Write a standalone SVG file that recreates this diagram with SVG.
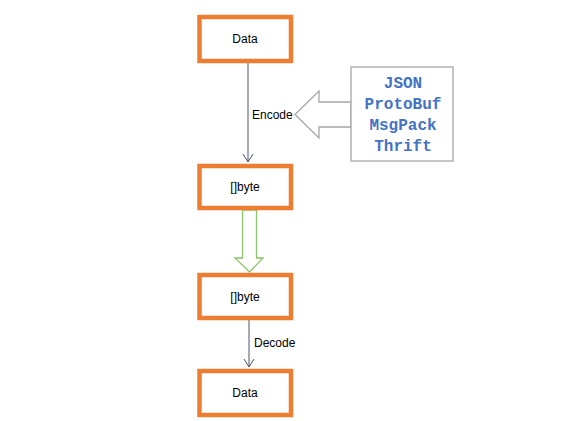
<svg xmlns="http://www.w3.org/2000/svg" width="583" height="421" viewBox="0 0 583 421">
<style>
.box{fill:#fff;stroke:#ed7d31;stroke-width:4.5}
.lbl{font-family:"Liberation Sans",Arial,sans-serif;font-size:12px;fill:#000}
.fmt{font-family:"Liberation Mono","Courier New",monospace;font-size:16px;font-weight:bold;fill:#4472c4;text-anchor:middle}
.c{text-anchor:middle}
.conn{stroke:#4a5568;stroke-width:1;fill:none}
</style>
<defs>
<marker id="v" markerWidth="12" markerHeight="12" refX="10" refY="6" orient="auto" markerUnits="userSpaceOnUse" viewBox="0 0 12 12">
<path d="M2,1 L10,6 L2,11" fill="none" stroke="#4a5568" stroke-width="1"/>
</marker>
</defs>
<rect width="583" height="421" fill="#fff"/>
<g id="connectors">
<line class="conn" x1="248" y1="63" x2="248" y2="162" marker-end="url(#v)"/>
<line class="conn" x1="249" y1="320" x2="249" y2="367" marker-end="url(#v)"/>
<polygon points="242.5,210 256.5,210 256.5,258 263,258 249.5,272 235,258 242.5,258" fill="#fff" stroke="#8cc56b" stroke-width="1.3"/>
<polygon points="351,102 319,102 319,91 295,114.5 319,138 319,127 351,127" fill="#fff" stroke="#a6a6a6" stroke-width="1.3"/>
<text class="lbl" x="252" y="119">Encode</text>
<text class="lbl" x="254" y="347">Decode</text>
</g>
<g id="formats">
<rect x="351" y="67" width="102" height="94" fill="#fff" stroke="#a6a6a6" stroke-width="1.3"/>
<text class="fmt" x="403" y="88">JSON</text>
<text class="fmt" x="403" y="109">ProtoBuf</text>
<text class="fmt" x="403" y="130">MsgPack</text>
<text class="fmt" x="403" y="151">Thrift</text>
</g>
<g id="data1"><rect class="box" x="199.5" y="17" width="91.5" height="44"/><text class="lbl c" x="245" y="43">Data</text></g>
<g id="byte1"><rect class="box" x="199.5" y="166" width="91.5" height="42"/><text class="lbl c" x="245" y="191">[]byte</text></g>
<g id="byte2"><rect class="box" x="199.5" y="275" width="91.5" height="43"/><text class="lbl c" x="245" y="301">[]byte</text></g>
<g id="data2"><rect class="box" x="199.5" y="371" width="91.5" height="44"/><text class="lbl c" x="245" y="397">Data</text></g>
</svg>
